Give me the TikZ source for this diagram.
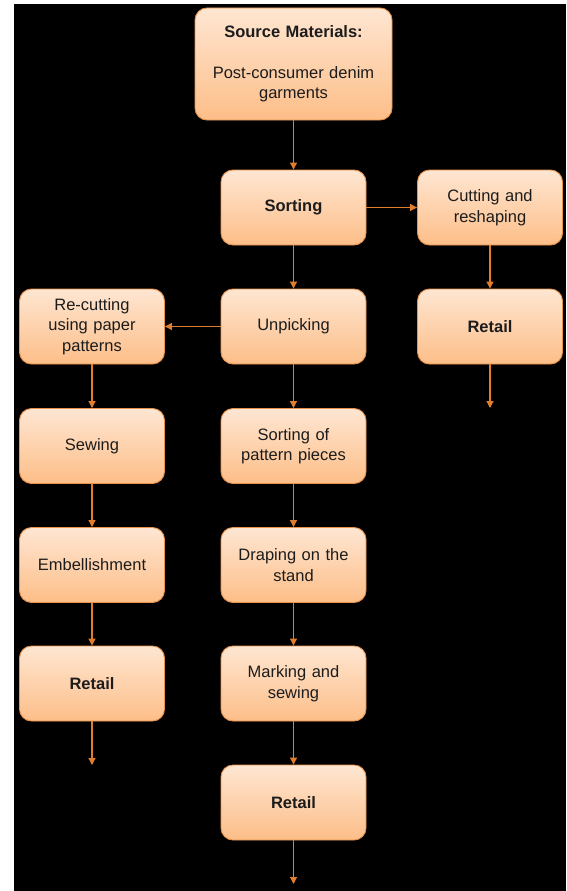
\documentclass[tikz,border=0pt]{standalone}
\usepackage{fontspec}
\setmainfont{Liberation Sans}
\usetikzlibrary{arrows.meta}
\definecolor{boxtop}{HTML}{FEE6D2}
\definecolor{boxbot}{HTML}{FDBE88}
\definecolor{boxline}{HTML}{E8914A}
\definecolor{arrowc}{HTML}{E07E2E}
\definecolor{txt}{HTML}{1C1C1C}
\tikzset{
  box/.style={draw=boxline, line width=0.9pt, rounded corners=12pt,
    top color=boxtop, bottom color=boxbot, minimum width=145pt,
    minimum height=75pt, align=center, inner sep=2pt, text=txt,
    font=\fontsize{16.5}{20.5}\selectfont, text width=135pt},
  conn/.style={draw=arrowc, line width=1.1pt, -{Triangle[width=7pt,length=7pt]}}
}
\begin{document}
\begin{tikzpicture}[x=1pt,y=-1pt]
\useasboundingbox (0,0) rectangle (566,891);
\fill[white] (0,0) rectangle (566,891);
\fill[black] (14,4) rectangle (566,891);
\node[box, minimum width=197pt, minimum height=112pt, text width=180pt] (src) at (293.5,64)
  {\textbf{Source Materials:}\\[20pt]Post-consumer denim\\garments};
\node[box] (sort) at (293.5,207.5) {\textbf{Sorting}};
\node[box] (cut) at (490,207.5) {Cutting and\\reshaping};
\node[box] (unp) at (293.5,326.5) {Unpicking};
\node[box] (recut) at (92,326.5) {Re-cutting\\using paper\\patterns};
\node[box] (retR) at (490,326.5) {\textbf{Retail}};
\node[box] (pieces) at (293.5,446) {Sorting of\\pattern pieces};
\node[box] (sew) at (92,446) {Sewing};
\node[box] (drape) at (293.5,565) {Draping on the\\stand};
\node[box] (emb) at (92,565) {Embellishment};
\node[box] (mark) at (293.5,683.5) {Marking and\\sewing};
\node[box] (retL) at (92,683.5) {\textbf{Retail}};
\node[box] (retC) at (293.5,802.5) {\textbf{Retail}};
\coordinate (endR) at (490,408);
\coordinate (endL) at (92,765);
\coordinate (endC) at (293.5,884);
\draw[conn] (src) -- (sort);
\draw[conn] (sort) -- (cut);
\draw[conn] (cut) -- (retR);
\draw[conn] (retR) -- (endR);
\draw[conn] (sort) -- (unp);
\draw[conn] (unp) -- (recut);
\draw[conn] (unp) -- (pieces);
\draw[conn] (recut) -- (sew);
\draw[conn] (sew) -- (emb);
\draw[conn] (emb) -- (retL);
\draw[conn] (retL) -- (endL);
\draw[conn] (pieces) -- (drape);
\draw[conn] (drape) -- (mark);
\draw[conn] (mark) -- (retC);
\draw[conn] (retC) -- (endC);
\end{tikzpicture}
\end{document}
